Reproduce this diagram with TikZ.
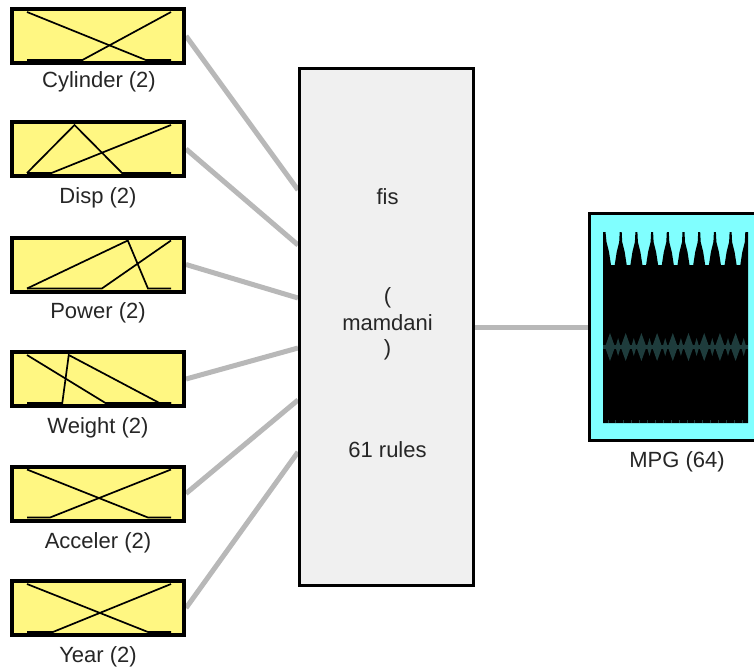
\documentclass[tikz,border=0pt]{standalone}
\usepackage{fontspec}
\setmainfont{Liberation Sans}
\usetikzlibrary{backgrounds}
\definecolor{mfyellow}{HTML}{FFF782}
\definecolor{mfcyan}{HTML}{80FFFF}
\definecolor{fisgray}{HTML}{F0F0F0}
\definecolor{wirecol}{HTML}{B8B8B8}
\definecolor{txt}{HTML}{262626}
\definecolor{bandcol}{HTML}{1E3C3C}
\newcommand\mfplot[2]{\begin{scope}[shift={(27,#1)},x=144pt,y=48pt,mfline]#2\end{scope}}
\begin{document}
\begin{tikzpicture}[x=1pt,y=-1pt,
  inbox/.style={draw=black,line width=4pt,fill=mfyellow,minimum width=172pt,minimum height=54pt,inner sep=0pt},
  fisbox/.style={draw=black,line width=3pt,fill=fisgray,minimum width=174pt,minimum height=517pt,inner sep=0pt},
  outbox/.style={draw=black,line width=3pt,fill=mfcyan,minimum width=172pt,minimum height=227pt,inner sep=0pt},
  lbl/.style={text=txt,font=\fontsize{22}{26}\selectfont,inner sep=0pt},
  wire/.style={draw=wirecol,line width=5pt},
  mfline/.style={line width=1.7pt,black,line join=miter}]
\useasboundingbox (0,0) rectangle (754,670);
\clip (0,0) rectangle (754,670);
% input boxes
\node[inbox] (in1) at (98,36) {};
\node[inbox] (in2) at (98,149) {};
\node[inbox] (in3) at (98,264.5) {};
\node[inbox] (in4) at (98,379) {};
\node[inbox] (in5) at (98,493.5) {};
\node[inbox] (in6) at (98,608) {};
\mfplot{60}{\draw (0,1) -- (0.825,0) -- (1,0); \draw (0,0) -- (0.385,0) -- (1,1);}
\mfplot{173}{\draw (0,0) -- (0.33,1) -- (0.66,0) -- (1,0); \draw (0,0) -- (0.17,0) -- (1,1);}
\mfplot{288.5}{\draw (0,0) -- (0.70,1) -- (0.84,0) -- (1,0); \draw (0,0) -- (0.52,0) -- (1,1);}
\mfplot{403}{\draw (0,1) -- (0.545,0) -- (1,0); \draw (0,0) -- (0.245,0) -- (0.29,1) -- (0.92,0) -- (1,0);}
\mfplot{517.5}{\draw (0,1) -- (0.84,0) -- (1,0); \draw (0,0) -- (0.16,0) -- (1,1);}
\mfplot{632}{\draw (0,1) -- (0.84,0) -- (1,0); \draw (0,0) -- (0.18,0) -- (1,1);}
\node[lbl] (l1) at (99,82) {Cylinder (2)};
\node[lbl] (l2) at (98,198) {Disp (2)};
\node[lbl] (l3) at (98,313) {Power (2)};
\node[lbl] (l4) at (98,428) {Weight (2)};
\node[lbl] (l5) at (98,543) {Acceler (2)};
\node[lbl] (l6) at (98,657) {Year (2)};
% fis box
\node[fisbox] (fis) at (386.5,327) {};
\node[lbl] (t1) at ([xshift=1pt,yshift=130pt]fis.center) {fis};
\node[lbl] (t2) at ([xshift=1pt,yshift=29pt]fis.center) {(};
\node[lbl] (t3) at ([xshift=1pt,yshift=4pt]fis.center) {mamdani};
\node[lbl] (t4) at ([xshift=1pt,yshift=-23pt]fis.center) {)};
\node[lbl] (t5) at ([xshift=1pt,yshift=-123pt]fis.center) {61 rules};
% output box
\node[outbox] (out) at (675.5,327) {};
\fill[black] (603,423) -- (603,232) -- (605.5,232)
  \foreach \k in {0,...,8} { -- ({605+15.7*\k+1.5},242) -- ({605+15.7*\k+4},252) -- ({605+15.7*\k+6},265) -- ({605+15.7*\k+9.7},265) -- ({605+15.7*\k+11.7},252) -- ({605+15.7*\k+14.2},242) -- ({605+15.7*\k+14.7},232) -- ({605+15.7*\k+16.7},232)}
  -- (748,232) -- (748,423) -- cycle;
\fill[bandcol] (603,345) rectangle (748,349);
\foreach \k in {0,...,8} {\fill[bandcol] ({605+15.7*\k},347) -- ++(5,-14) -- ++(5,14) -- ++(-5,14) -- cycle;
  \fill[bandcol] ({605+15.7*\k+10.5},347) -- ++(2.6,-9) -- ++(2.6,9) -- ++(-2.6,9) -- cycle;}
\foreach \k in {0,...,17} {\draw[bandcol,line width=1pt] ({608+7.9*\k},423) -- ++(0,-3);}
\node[lbl] (l7) at (677,462) {MPG (64)};
% connectors
\begin{pgfonlayer}{background}
\fill[white] (0,0) rectangle (754,670);
\draw[wire] (in1.east) -- ([yshift=137pt]fis.west);
\draw[wire] (in2.east) -- ([yshift=82pt]fis.west);
\draw[wire] (in3.east) -- ([yshift=29pt]fis.west);
\draw[wire] (in4.east) -- ([yshift=-21pt]fis.west);
\draw[wire] (in5.east) -- ([yshift=-73pt]fis.west);
\draw[wire] (in6.east) -- ([yshift=-125pt]fis.west);
\draw[wire] (fis.east) -- (out.west);
\end{pgfonlayer}
\end{tikzpicture}
\end{document}
